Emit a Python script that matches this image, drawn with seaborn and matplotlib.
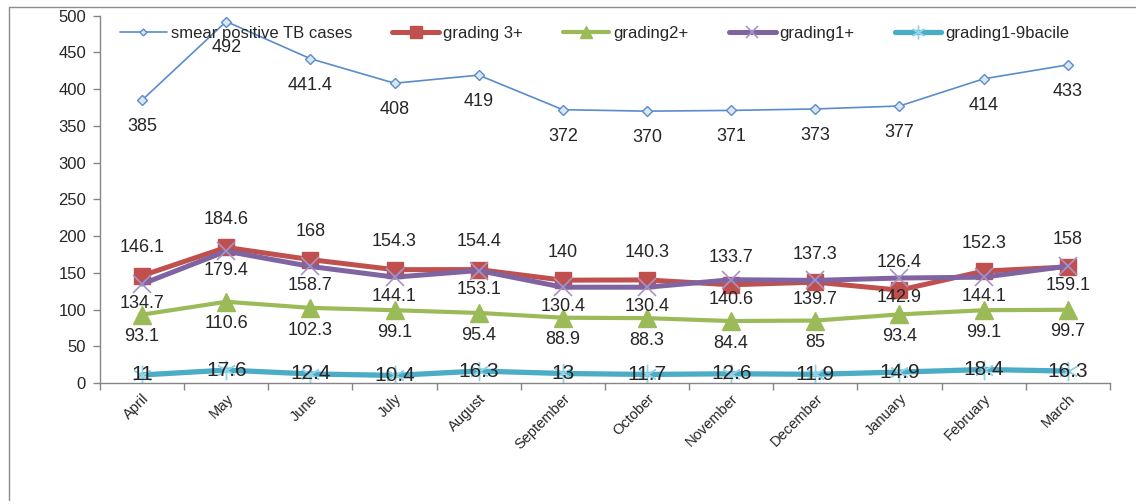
import matplotlib
matplotlib.use("Agg")
import matplotlib.pyplot as plt
import seaborn as sns
import pandas as pd
import numpy as np
from matplotlib.lines import Line2D

months = ["April", "May", "June", "July", "August", "September", "October",
          "November", "December", "January", "February", "March"]
smear = [385, 492, 441.4, 408, 419, 372, 370, 371, 373, 377, 414, 433]
grade3 = [146.1, 184.6, 168, 154.3, 154.4, 140, 140.3, 133.7, 137.3, 126.4, 152.3, 158]
grade2 = [93.1, 110.6, 102.3, 99.1, 95.4, 88.9, 88.3, 84.4, 85, 93.4, 99.1, 99.7]
grade1 = [134.7, 179.4, 158.7, 144.1, 153.1, 130.4, 130.4, 140.6, 139.7, 142.9, 144.1, 159.1]
bacile = [11, 17.6, 12.4, 10.4, 16.3, 13, 11.7, 12.6, 11.9, 14.9, 18.4, 16.3]
series_names = ["smear positive TB cases", "grading 3+", "grading2+", "grading1+", "grading1-9bacile"]
y_ticks = [0, 50, 100, 150, 200, 250, 300, 350, 400, 450, 500]

sns.set_theme(style="white")
plt.rcParams["font.family"] = ["Liberation Sans", "DejaVu Sans"]
TXT = "#262626"
AX = "#868686"

fig = plt.figure(figsize=(11.36, 5.04), dpi=100)
ax = fig.add_axes([0.088, 0.240, 0.889, 0.729])

pos = np.arange(len(months))
styles = [
    dict(color="#5A8CCB", marker="D", markersize=5, linewidth=1.2,
         markerfacecolor="#DCE6F2", markeredgecolor="#5A8CCB", markeredgewidth=1.0),
    dict(color="#C0504D", marker="s", markersize=12, linewidth=3.6,
         markerfacecolor="#C0504D", markeredgecolor="#C0504D", markeredgewidth=1.0),
    dict(color="#9BBB59", marker="^", markersize=13, linewidth=3.0,
         markerfacecolor="#9BBB59", markeredgecolor="#9BBB59", markeredgewidth=1.0),
    dict(color="#8064A2", marker="x", markersize=13, linewidth=3.6,
         markerfacecolor="#9F8BC4", markeredgecolor="#A593C8", markeredgewidth=1.2),
    dict(color="#4BACC6", marker=(6, 2, 0), markersize=14, linewidth=3.8,
         markerfacecolor="#93D3E6", markeredgecolor="#93D3E6", markeredgewidth=1.0),
]
values = [smear, grade3, grade2, grade1, bacile]
label_offsets = [-19, 20, -16, -14, 0]
label_sizes = [13, 13, 13, 13, 15]

for name, vals, st, off, fs in zip(series_names, values, styles, label_offsets, label_sizes):
    df = pd.DataFrame({"pos": pos, "value": vals})
    sns.lineplot(data=df, x="pos", y="value", ax=ax, label=name, sort=False, **st)
    for p, v in zip(pos, vals):
        ax.annotate(f"{v:g}", (p, v), xytext=(0, off), textcoords="offset points",
                    ha="center", va="center", fontsize=fs, color=TXT)

ax.set_xlim(-0.5, len(months) - 0.5)
ax.set_ylim(0, 500)
ax.set_yticks(y_ticks)
ax.set_yticklabels([str(t) for t in y_ticks], fontsize=12, color=TXT)
ax.set_xticks(np.arange(len(months) + 1) - 0.5)
ax.set_xticklabels([""] * (len(months) + 1))
ax.set_xticks(pos, minor=True)
ax.set_xticklabels(months, minor=True, rotation=45, ha="right",
                   rotation_mode="anchor", fontsize=10.5, color=TXT)
ax.tick_params(axis="x", which="minor", length=0, pad=6)
ax.tick_params(axis="x", which="major", length=5, width=1, color=AX, direction="out", bottom=True)
ax.tick_params(axis="y", length=5, width=1, color=AX, direction="out", left=True, pad=5)
ax.set_xlabel("")
ax.set_ylabel("")
for s in ["top", "right"]:
    ax.spines[s].set_visible(False)
for s in ["left", "bottom"]:
    ax.spines[s].set_color(AX)
    ax.spines[s].set_linewidth(1)

ax.legend(loc="upper center", bbox_to_anchor=(0.49, 1.0), ncol=5, frameon=False,
          fontsize=12, handlelength=2.8, handletextpad=0.25, columnspacing=2.4,
          labelcolor=TXT, borderaxespad=0.2, markerscale=0.7)

fig.add_artist(Line2D([9 / 1136, 9 / 1136], [1 - 7 / 504, 1 - 500 / 504],
                      transform=fig.transFigure, color="#8C8C8C", lw=1))
fig.add_artist(Line2D([9 / 1136, 1.0], [1 - 7 / 504, 1 - 7 / 504],
                      transform=fig.transFigure, color="#8C8C8C", lw=1))

fig.savefig("out.png", dpi=100)
